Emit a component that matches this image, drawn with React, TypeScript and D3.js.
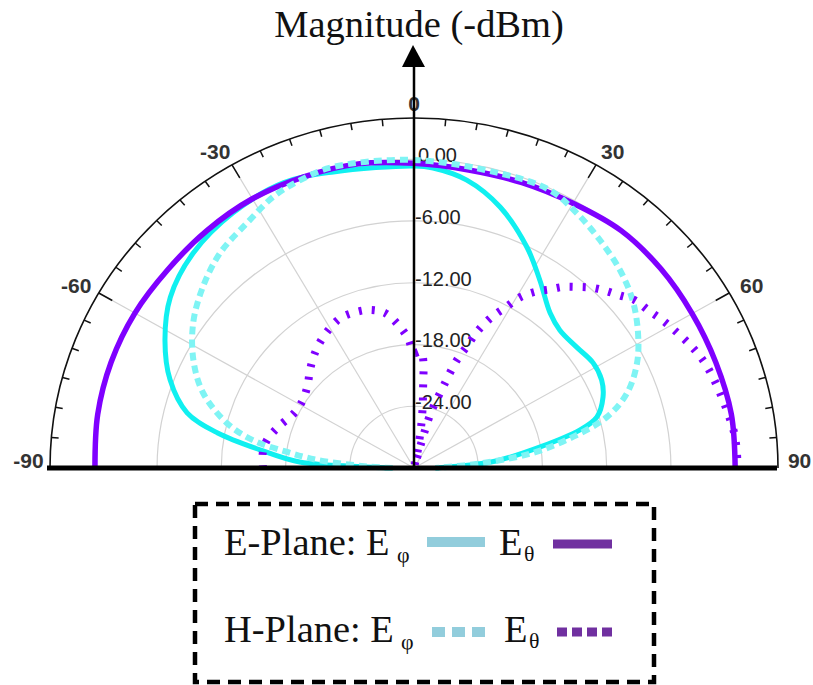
import React from "react";
import * as d3 from "d3";

// ---- Data ----
const ANGLE_TICK_LABELS = ["-90", "-60", "-30", "0", "30", "60", "90"];
const ANGLE_TICK_VALUES = [-90, -60, -30, 0, 30, 60, 90];
const RING_VALUES = [-24, -18, -12, -6, 0];
const RING_LABELS = ["-24.00", "-18.00", "-12.00", "-6.00", "0.00"];

// E-Plane E_phi (solid cyan)
const E_PHI_ANGLES = [-90, -88.7, -86.9, -83, -79.5, -75.8, -69.4, -61.9, -53.9, -44.7, -34.3, -23.8, -14.7, 0, 3.5, 10, 17.6, 26.2, 32.8, 40.2, 45.5, 52.3, 58.6, 64, 68.7, 73.8, 76.6, 84.5, 87, 90];
const E_PHI_VALUES = [-28, -25.6, -19.3, -15.5, -11.35, -8.14, -5.66, -3.63, -1.83, -0.66, 0, 0.27, -0.27, -0.66, -0.8, -1.6, -3.4, -6.1, -8.3, -10.3, -10.9, -10.8, -10.4, -10.5, -11.05, -12.2, -14.1, -21.9, -25, -28];

// E-Plane E_theta (solid purple)
const E_THETA_ANGLES = [-90, -80, -70, -60, -50, -40, -30, -20, -10, 0, 10, 20, 30, 40, 50, 60, 70, 80, 90];
const E_THETA_VALUES = [-0.2, 0, 0.1, 0.1, 0, 0.1, 0.2, 0.1, 0, -0.4, -0.6, -0.5, -0.3, 0.1, 0.1, 0, 0, 0.1, 0];

// H-Plane E_phi (dashed light cyan)
const H_PHI_ANGLES = [-90, -88, -85, -82.5, -79.8, -76, -69.7, -63.1, -55.7, -48.3, -40.9, -33.2, -26.6, -20.8, -14.5, 0, 15.7, 25.2, 31.6, 38.1, 45, 51.4, 57.9, 63.9, 69.9, 74.6, 78.5, 82.5, 85.7, 90];
const H_PHI_VALUES = [-28, -25.6, -20.9, -18.05, -14.7, -12, -9, -6.9, -5.03, -3.58, -2.35, -1.54, -0.57, -0.08, 0.2, -0.08, -0.27, -0.18, -0.95, -1.86, -2.8, -3.87, -5.3, -6.8, -8.8, -11.3, -14.85, -18.8, -23.6, -28];

// H-Plane E_theta (dashed purple)
const H_THETA_ANGLES = [-90, -84, -78.8, -72.6, -64.6, -57.7, -50.9, -46.2, -41.4, -36.8, -30.9, -25.3, -20, -15, -10.2, -6.1, -2.5, 0, 3.3, 6.6, 9, 12, 14, 16.2, 19, 20.9, 22.7, 24, 26.4, 28.9, 30.8, 33.4, 36.2, 38.3, 41, 43.7, 46.4, 48.9, 51.7, 54.9, 58.3, 62, 65.6, 68.8, 72, 75.7, 79.7, 83.5, 87.2, 90];
const H_THETA_VALUES = [-15.9, -15.8, -16, -16.7, -17.6, -17.7, -17.2, -16.5, -15.75, -15.1, -14.4, -13.9, -13.9, -14.1, -14.7, -16, -17.4, -18.8, -18.7, -22.7, -25.5, -28.5, -29.8, -24.6, -21.7, -18.8, -17.2, -15.5, -13.6, -12.1, -10.7, -9.5, -8.5, -7.6, -6.7, -5.8, -5.1, -4.5, -3.7, -3.3, -2.7, -2.1, -1.5, -1.05, -0.76, -0.5, -0.2, 0.1, 0.2, 0.2];

const W = 813;
const H = 685;
const CX = 414;
const CY = 468;
const R = 350;
const XS = 1.04; // horizontal stretch of the reference

const rScale = d3.scaleLinear().domain([-30, 4]).range([0, R]);
const aScale = d3.scaleLinear().domain([-90, 90]).range([-Math.PI / 2, Math.PI / 2]);

function projR(deg: number, r: number): [number, number] {
  const a = aScale(deg);
  return [CX + XS * r * Math.sin(a), CY - r * Math.cos(a)];
}
function proj(deg: number, v: number): [number, number] {
  return projR(deg, rScale(v));
}

const lineGen = d3
  .line<[number, number]>()
  .x((d) => d[0])
  .y((d) => d[1])
  .curve(d3.curveCatmullRom.alpha(0.5));

function seriesPath(angles: number[], values: number[]) {
  return lineGen(angles.map((a, i) => proj(a, values[i]))) || "";
}

function halfArc(r: number) {
  return `M ${CX - XS * r} ${CY} A ${XS * r} ${r} 0 0 1 ${CX + XS * r} ${CY}`;
}

const serif = "'Liberation Serif', 'Times New Roman', serif";
const sans = "'Liberation Sans', Arial, sans-serif";

function SText({ x, y, size, children, anchor = "start" }: any) {
  return (
    <text
      transform={`translate(${x},${y}) scale(${XS},1)`}
      fontFamily={serif}
      fontSize={size}
      fill="#111"
      textAnchor={anchor}
    >
      {children}
    </text>
  );
}

export default function App() {
  const ticks = d3.range(-85, 90, 5);
  return (
    <svg
      width={W}
      height={H}
      style={{ position: "absolute", left: 0, top: 0, background: "#fff" }}
    >
      {/* grid rings */}
      {RING_VALUES.map((v) => (
        <path key={"ring" + v} d={halfArc(rScale(v))} fill="none" stroke="#d2d2d2" strokeWidth={1.2} />
      ))}
      {/* spokes */}
      {[-60, -30, 30, 60].map((deg) => {
        const [x, y] = projR(deg, R);
        return <line key={"sp" + deg} x1={CX} y1={CY} x2={x} y2={y} stroke="#d2d2d2" strokeWidth={1.2} />;
      })}
      {/* outer arc */}
      <path d={halfArc(R)} fill="none" stroke="#111" strokeWidth={1.6} />
      {ticks.map((deg) => {
        const len = deg % 30 === 0 ? 15 : 7;
        const [x1, y1] = projR(deg, R);
        const [x2, y2] = projR(deg, R - len);
        return <line key={"tk" + deg} x1={x1} y1={y1} x2={x2} y2={y2} stroke="#111" strokeWidth={1.5} />;
      })}
      {/* angle labels */}
      {ANGLE_TICK_VALUES.map((deg, i) => {
        const [x, y] = projR(deg, 365);
        const sgn = deg < 0 ? -1 : deg > 0 ? 1 : 0;
        const off = Math.abs(deg) === 90 ? 6 : 9;
        const dy = Math.abs(deg) === 90 ? -8 : 0;
        return (
          <text
            key={"al" + deg}
            x={x + sgn * off}
            y={y + dy}
            textAnchor="middle"
            dominantBaseline="central"
            fontFamily={sans}
            fontWeight="bold"
            fontSize={21}
            fill="#333"
          >
            {ANGLE_TICK_LABELS[i]}
          </text>
        );
      })}

      {/* radial labels (under the curves) */}
      {RING_VALUES.map((v, i) => {
        const [, y] = projR(0, rScale(v));
        return (
          <text
            key={"rl" + v}
            x={v === 0 ? CX + 4 : CX + 1}
            y={y - 4}
            dominantBaseline="central"
            fontFamily={sans}
            fontSize={20}
            fill="#222"
          >
            {RING_LABELS[i]}
          </text>
        );
      })}

      {/* series */}
      <path d={seriesPath(E_PHI_ANGLES, E_PHI_VALUES)} fill="none" stroke="#10f0f0" strokeWidth={5} strokeLinejoin="round" />
      <path d={seriesPath(E_THETA_ANGLES, E_THETA_VALUES)} fill="none" stroke="#7f00ff" strokeWidth={5.5} strokeLinejoin="round" />
      <path d={seriesPath(H_PHI_ANGLES, H_PHI_VALUES)} fill="none" stroke="#7ff4f4" strokeWidth={6} strokeDasharray="8 5" />
      <path d={seriesPath(H_THETA_ANGLES, H_THETA_VALUES)} fill="none" stroke="#7f00ff" strokeWidth={8} strokeDasharray="3 10" />

      {/* vertical axis with arrow */}
      <line x1={CX} y1={CY} x2={CX} y2={64} stroke="#000" strokeWidth={2.5} />
      <path d={`M ${CX - 1} 45 L ${CX + 11} 67 L ${CX - 12} 67 Z`} fill="#000" />
      {/* baseline */}
      <line x1={47} y1={CY} x2={777} y2={CY} stroke="#000" strokeWidth={5} />

      {/* title */}
      <SText x={419} y={37} size={37} anchor="middle">Magnitude (-dBm)</SText>

      {/* legend */}
      <rect x={195} y={504} width={459} height={178} fill="none" stroke="#000" strokeWidth={4.5} strokeDasharray="13 8" />
      <SText x={224} y={555} size={37}>E-Plane: E</SText>
      <SText x={397} y={562} size={21}>φ</SText>
      <line x1={427} y1={542} x2={485} y2={542} stroke="#92cddc" strokeWidth={10} />
      <SText x={499} y={555} size={37}>E</SText>
      <SText x={524} y={561} size={21}>θ</SText>
      <line x1={553} y1={544} x2={612} y2={544} stroke="#7030a0" strokeWidth={9} />

      <SText x={224} y={642} size={37}>H-Plane: E</SText>
      <SText x={401} y={649} size={21}>φ</SText>
      <line x1={432} y1={632} x2={490} y2={632} stroke="#92cddc" strokeWidth={10} strokeDasharray="13 7" />
      <SText x={504} y={642} size={37}>E</SText>
      <SText x={529} y={648} size={21}>θ</SText>
      <line x1={557} y1={632} x2={613} y2={632} stroke="#7030a0" strokeWidth={9} strokeDasharray="10 5" />
    </svg>
  );
}
